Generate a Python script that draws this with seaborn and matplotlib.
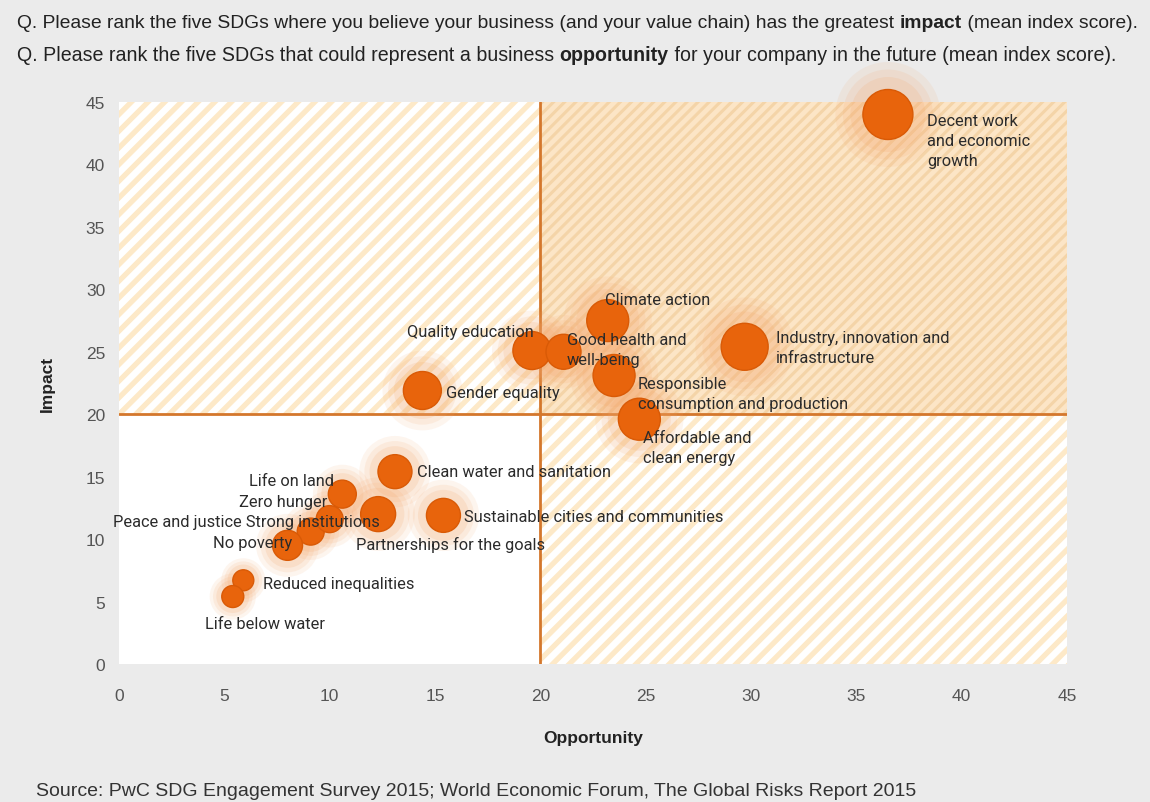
import numpy as np
import pandas as pd
import seaborn as sns
import matplotlib.pyplot as plt

# data
sdg = ["Decent work\nand economic\ngrowth", "Industry, innovation and\ninfrastructure",
       "Climate action", "Quality education", "Good health and\nwell-being",
       "Responsible\nconsumption and production", "Affordable and\nclean energy",
       "Gender equality", "Clean water and sanitation", "Sustainable cities and communities",
       "Partnerships for the goals", "Life on land", "Zero hunger",
       "Peace and justice Strong institutions", "No poverty", "Reduced inequalities",
       "Life below water"]
opportunity = [36.5, 29.7, 23.2, 19.6, 21.1, 23.5, 24.7, 14.4, 13.1, 15.4, 12.3, 10.6, 9.1, 10.0, 8.0, 5.9, 5.4]
impact = [44.0, 25.4, 27.5, 25.1, 25.0, 23.1, 19.6, 21.9, 15.4, 11.9, 12.0, 13.6, 10.6, 11.6, 9.5, 6.7, 5.4]
weight = [25, 23.5, 21, 19, 17.5, 21, 21, 19, 17, 17, 17.5, 14, 13.5, 13.5, 15, 10.5, 11]
threshold = 20
axis_max = 45

df = pd.DataFrame({"sdg": sdg, "opportunity": opportunity, "impact": impact, "weight": weight})

# label placement: (dx, dy) in pixels from the bubble, horizontal alignment
label_pos = {
    0: (39, -26, "left"), 1: (31, -1, "left"), 2: (-3, 21, "left"), 3: (2, 19, "right"),
    4: (3, 2, "left"), 5: (24, -18, "left"), 6: (4, -28, "left"), 7: (24, -2, "left"),
    8: (22, 0, "left"), 9: (21, -1, "left"), 10: (-22, -30, "left"), 11: (-8, 14, "right"),
    12: (17, 30, "right"), 13: (50, -2, "right"), 14: (5, 3, "right"), 15: (20, -3, "left"),
    16: (32, -27, "center"),
}

sns.set_style("white")
plt.rcParams["font.family"] = ["Liberation Sans", "DejaVu Sans"]
label_font = ["Liberation Sans Narrow", "Roboto", "DejaVu Sans"]

fig = plt.figure(figsize=(11.5, 8.03), dpi=100, facecolor="#ebebeb")
ax = fig.add_axes([0.1035, 0.1719, 0.8243, 0.6998])
ax.set_facecolor("white")

# hatched quadrants
plt.rcParams["hatch.linewidth"] = 3.8
ax.fill_between([0, threshold], threshold, axis_max, facecolor="white", edgecolor="#fde9c8", hatch="//", linewidth=0, zorder=0)
ax.fill_between([threshold, axis_max], 0, threshold, facecolor="white", edgecolor="#fde9c8", hatch="//", linewidth=0, zorder=0)
plt.rcParams["hatch.linewidth"] = 2.2
ax.fill_between([threshold, axis_max], threshold, axis_max, facecolor="#fce5c6", edgecolor="#f4d4a8", hatch="///", linewidth=0, zorder=0)

ax.axvline(threshold, color="#d4772c", lw=2, zorder=1)
ax.axhline(threshold, color="#d4772c", lw=2, zorder=1)

px = 72 / fig.dpi
core_s = (2 * df["weight"] * px) ** 2
for scale, alpha in [(2.1, 0.11), (1.8, 0.13), (1.5, 0.17)]:
    sns.scatterplot(data=df, x="opportunity", y="impact", s=core_s * scale ** 2, color="#f4a56a",
                    alpha=alpha, linewidth=0, legend=False, ax=ax, zorder=2, clip_on=False)
sns.scatterplot(data=df, x="opportunity", y="impact", s=core_s, color="#e8640c",
                edgecolor="#d95a06", linewidth=1, legend=False, ax=ax, zorder=3, clip_on=False)

for i, row in df.iterrows():
    dx, dy, ha = label_pos[i]
    ax.annotate(row["sdg"], (row["opportunity"], row["impact"]), xytext=(dx * px, dy * px),
                textcoords="offset points", ha=ha, va="center", fontsize=11.8, color="#2b2b2b",
                family=label_font, linespacing=1.45, zorder=4)

ax.set_xlim(0, axis_max)
ax.set_ylim(0, axis_max)
ax.set_xticks(range(0, axis_max + 1, 5))
ax.set_yticks(range(0, axis_max + 1, 5))
ax.tick_params(length=0, labelsize=12.5, labelcolor="#555555")
ax.tick_params(axis="x", pad=17)
ax.tick_params(axis="y", pad=10)
for s in ax.spines.values():
    s.set_visible(False)
ax.set_xlabel("Opportunity", fontsize=12.5, fontweight="bold", color="#222222", labelpad=20)
ax.set_ylabel("Impact", fontsize=12.5, fontweight="bold", color="#222222", labelpad=22)

# header with bold words
def header(y, parts, size):
    prev = None
    for txt, weight_ in parts:
        if prev is None:
            prev = fig.text(17 / 1150, y, txt, fontsize=size, fontweight=weight_, color="#222222", va="bottom")
        else:
            prev = ax.annotate(txt, xy=(1, 0), xycoords=prev, ha="left", va="bottom", fontsize=size,
                               fontweight=weight_, color="#222222", annotation_clip=False)

header(1 - 32 / 803, [("Q. Please rank the five SDGs where you believe your business (and your value chain) has the greatest ", "normal"),
                      ("impact", "bold"), (" (mean index score).", "normal")], 13.9)
header(1 - 65 / 803, [("Q. Please rank the five SDGs that could represent a business ", "normal"),
                      ("opportunity", "bold"), (" for your company in the future (mean index score).", "normal")], 14.1)

fig.text(36 / 1150, 1 - 792 / 803, "Source: PwC SDG Engagement Survey 2015; World Economic Forum, The Global Risks Report 2015",
         fontsize=14, color="#333333", va="center")

fig.savefig("out.png", dpi=100, facecolor=fig.get_facecolor())
